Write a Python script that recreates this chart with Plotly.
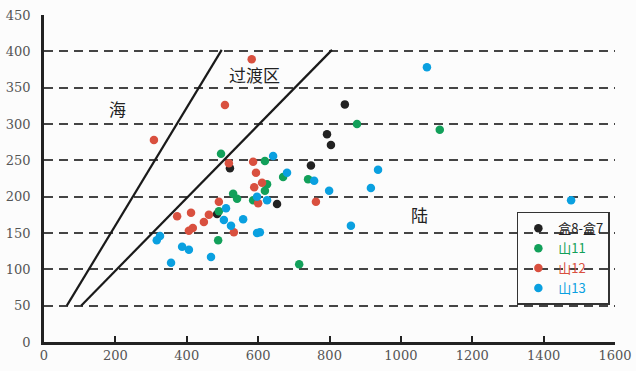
import plotly.graph_objects as go

# ---- data ----
black_x = [843, 793, 804, 748, 521, 485, 653]
black_y = [327, 286, 271, 243, 239, 176, 190]

green_x = [877, 1109, 496, 619, 670, 740, 625, 619, 530, 541, 586, 490, 488, 715]
green_y = [300, 292, 259, 249, 227, 224, 217, 208, 204, 197, 195, 180, 140, 107]

red_x = [308, 582, 507, 518, 586, 594, 611, 589, 600, 762, 490, 373, 412, 448, 462, 417, 406, 532]
red_y = [278, 389, 326, 246, 248, 233, 219, 213, 191, 193, 193, 173, 178, 165, 175, 157, 153, 151]

blue_x = [1073, 936, 916, 1477, 860, 799, 757, 681, 642, 625, 605, 597, 510, 504, 524, 558,
          597, 325, 316, 387, 406, 468, 356]
blue_y = [378, 237, 212, 195, 160, 208, 222, 233, 256, 195, 151, 200, 184, 168, 160, 169,
          150, 146, 140, 131, 127, 117, 109]

line1_x = [64, 498]
line1_y = [50, 402]
line2_x = [104, 807]
line2_y = [50, 402]

series_names = ["盒8-盒7", "山11", "山12", "山13"]
series_colors = ["#222222", "#12a05a", "#d9503f", "#0aa0e0"]

labels = ["海", "过渡区", "陆"]
label_x = [207, 591, 1053]
label_y = [322, 368, 175]

xticks = [0, 200, 400, 600, 800, 1000, 1200, 1400, 1600]
yticks = [0, 50, 100, 150, 200, 250, 300, 350, 400, 450]

fig = go.Figure()

for lx, ly in [(line1_x, line1_y), (line2_x, line2_y)]:
    fig.add_trace(go.Scatter(x=lx, y=ly, mode="lines", line=dict(color="#1a1a1a", width=2.2),
                             showlegend=False, hoverinfo="skip"))

for xs, ys, name, col in zip([black_x, green_x, red_x, blue_x], [black_y, green_y, red_y, blue_y],
                             series_names, series_colors):
    fig.add_trace(go.Scatter(
        x=xs, y=ys, mode="markers",
        marker=dict(color=col, size=8.5),
        name=f"<span style='color:{col}'>{name}</span>",
    ))

for t, x, y in zip(labels, label_x, label_y):
    fig.add_annotation(x=x, y=y, text=t, showarrow=False,
                       font=dict(family="Noto Sans CJK SC", size=17, color="#222"))

fig.update_layout(
    width=636, height=371,
    margin=dict(l=44, r=21, t=15, b=29, autoexpand=False),
    paper_bgcolor="#fcfcfc", plot_bgcolor="#fcfcfc",
    font=dict(family="DejaVu Serif", size=13, color="#555"),
    legend=dict(x=0.991, y=0.398, xanchor="right", yanchor="top",
                bgcolor="rgba(255,255,255,0)", bordercolor="#333", borderwidth=1.5,
                font=dict(family="Noto Sans CJK SC", size=13), itemwidth=30,
                tracegroupgap=0),
    showlegend=True,
)
fig.update_xaxes(range=[0, 1600], tickvals=xticks, showgrid=False, zeroline=False,
                 showline=True, linecolor="#222", linewidth=2.5, automargin=False,
                 ticks="inside", ticklen=6, tickwidth=1.5, tickcolor="#222")
fig.update_yaxes(range=[0, 450], tickvals=yticks, showgrid=True, gridcolor="#444",
                 gridwidth=1.8, griddash="9px,6px", zeroline=False, automargin=False,
                 showline=True, linecolor="#222", linewidth=2.5, ticks="", ticklabelstandoff=8)

fig.write_html("out.html")
